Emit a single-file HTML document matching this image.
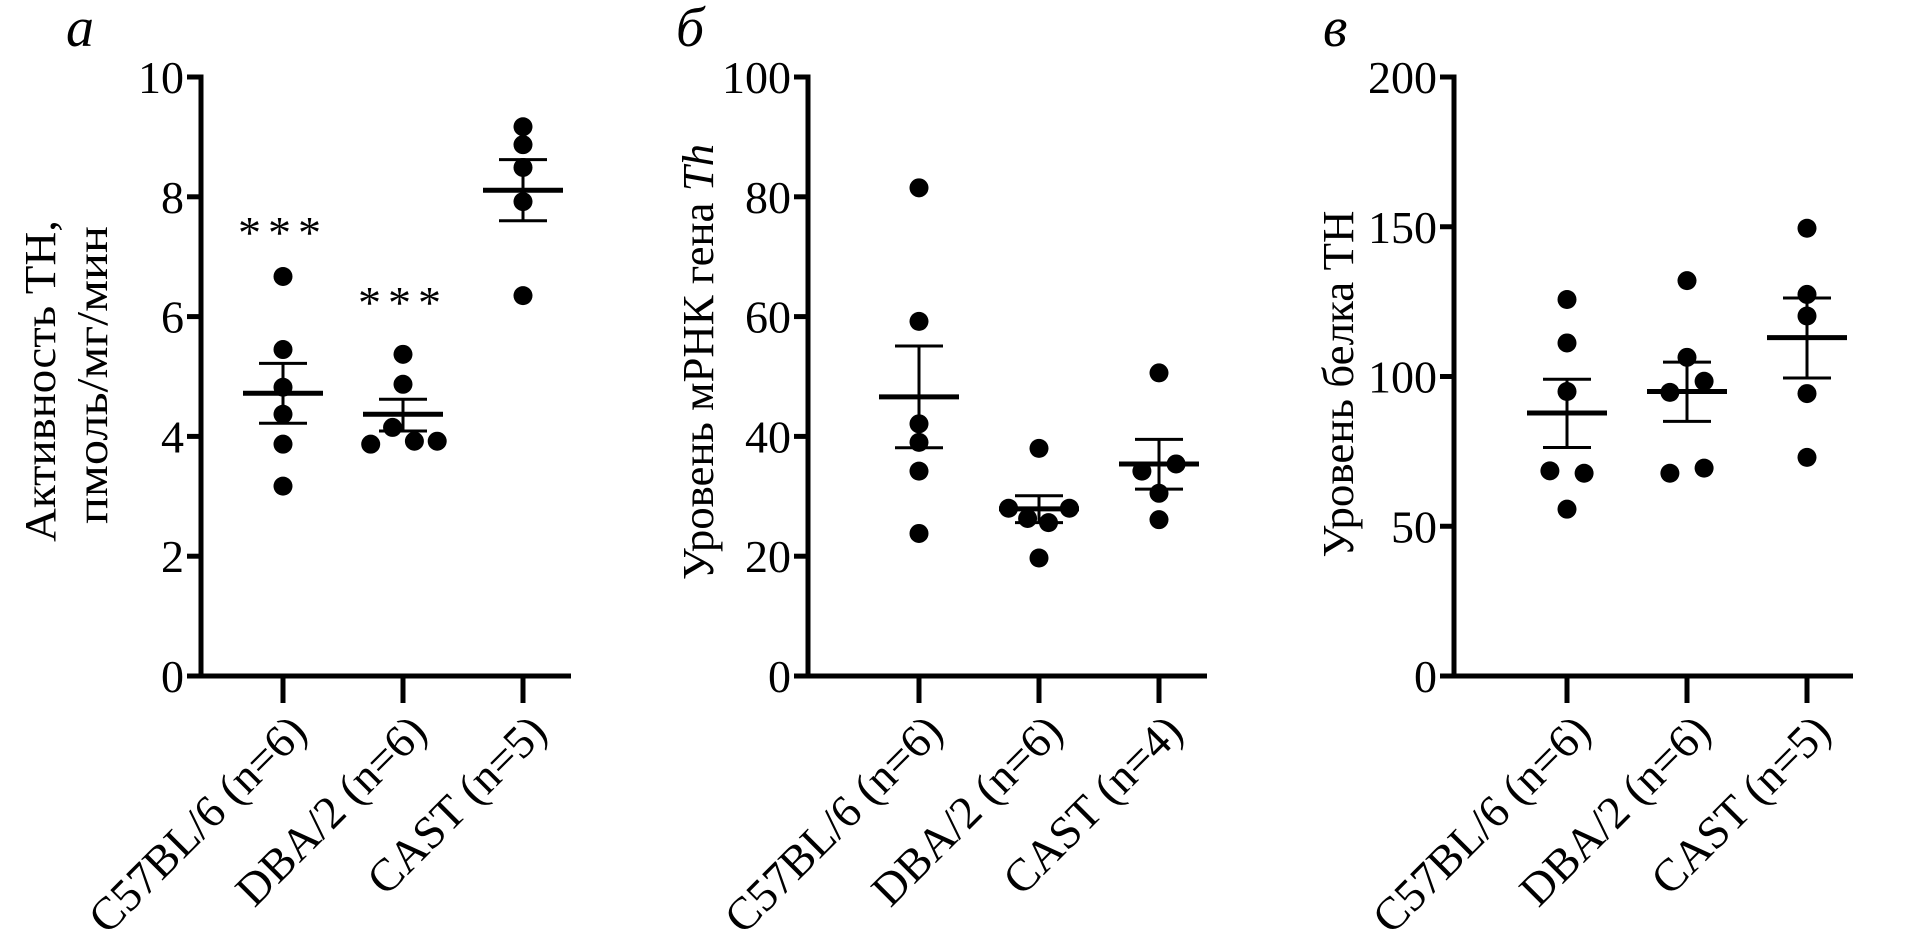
<!DOCTYPE html>
<html><head><meta charset="utf-8"><style>
html,body{margin:0;padding:0;background:#fff;}
svg{display:block;font-family:"Liberation Serif","DejaVu Serif",serif;}
</style></head><body>
<svg id="fig" width="1911" height="941" viewBox="0 0 1911 941" xmlns="http://www.w3.org/2000/svg"></svg>
<script>
const categories = ["C57BL/6 (n=6)", "DBA/2 (n=6)", "CAST (n=5)"];
const categoriesB = ["C57BL/6 (n=6)", "DBA/2 (n=6)", "CAST (n=4)"];
// Panel a: TH activity
const aC57 = [6.67, 5.45, 4.82, 4.37, 3.87, 3.17];
const aDBA = [5.37, 4.87, 4.15, 3.87, 3.92, 3.92];
const aCAST = [9.17, 8.87, 8.49, 7.92, 6.35];
const aMean = [4.72, 4.37, 8.11];
const aSemHi = [5.22, 4.62, 8.62];
const aSemLo = [4.22, 4.09, 7.60];
const aTicks = [0, 2, 4, 6, 8, 10];
// Panel b: mRNA
const bC57 = [81.5, 59.2, 42.1, 39.0, 34.2, 23.8];
const bDBA = [38.0, 28.0, 26.3, 25.6, 28.0, 19.7];
const bCAST = [50.6, 34.2, 35.4, 30.5, 26.1];
const bMean = [46.6, 27.9, 35.4];
const bSemHi = [55.1, 30.1, 39.5];
const bSemLo = [38.1, 25.6, 31.2];
const bTicks = [0, 20, 40, 60, 80, 100];
// Panel c: protein
const cC57 = [125.7, 111.2, 95.0, 68.5, 67.7, 55.7];
const cDBA = [132, 106.4, 94.7, 98.4, 67.7, 69.4];
const cCAST = [149.5, 127.4, 120.2, 94.3, 73.0];
const cMean = [87.8, 95.0, 113.0];
const cSemHi = [99.1, 104.8, 126.2];
const cSemLo = [76.3, 85.0, 99.5];
const cTicks = [0, 50, 100, 150, 200];

const NS = "http://www.w3.org/2000/svg";
const svg = document.getElementById('fig');
function mk(tag, attrs, parent, text){
  const e = document.createElementNS(NS, tag);
  for (const k in attrs) e.setAttribute(k, attrs[k]);
  if (text !== undefined) e.textContent = text;
  (parent||svg).appendChild(e);
  return e;
}
const TOP = 77, BOT = 676;
const jitA = [[0,0,0,0,0,0],[0,0,-0.55,-1.7,0.6,1.8],[0,0,0,0,0]];
const jitB = [[0,0,0,0,0,0],[0,-1.6,-0.6,0.5,1.6,0],[0,-0.9,0.9,0,0]];
const jitC = [[0,0,0,-0.9,0.9,0],[0,0,-0.9,0.9,-0.9,0.9],[0,0,0,0,0]];

function panel(opt){
  const g = mk('g', {});
  
  
  const ax = opt.axisX, max = opt.ticks[opt.ticks.length-1];
  const y = v => BOT - v / max * (BOT - TOP);
  const x = i => opt.cx0 + i * 120;
  const yl = mk('line', {x1:ax, y1:TOP-2.5, x2:ax, y2:BOT+2.5, stroke:'#000','stroke-width':5}, g);
   
  const xl = mk('line', {x1:ax-2.5, y1:BOT, x2:opt.xEnd, y2:BOT, stroke:'#000','stroke-width':5}, g);
   
  opt.ticks.forEach(t => {
    const tl = mk('line', {x1:ax-14, y1:y(t), x2:ax, y2:y(t), stroke:'#000','stroke-width':5}, g);
     
    const tt = mk('text', {x:ax-17, y:y(t)+16, 'text-anchor':'end','font-size':46}, g, String(t));
     
  });
  opt.cats.forEach((c, i) => {
    const tl = mk('line', {x1:x(i), y1:BOT, x2:x(i), y2:BOT+27, stroke:'#000','stroke-width':5}, g);
     
    const px = x(i) + 26, py = 734;
    const tt = mk('text', {x:px, y:py, 'text-anchor':'end','font-size':46, transform:`rotate(-45 ${px} ${py})`}, g, c);
     
  });
  opt.series.forEach((vals, i) => {
    vals.forEach((v, j) => {
      const d = mk('circle', {cx:x(i) + opt.jit[i][j]*19, cy:y(v), r:9.5, fill:'#000'}, g);
       
    });
    const m = mk('line', {x1:x(i)-40, y1:y(opt.mean[i]), x2:x(i)+40, y2:y(opt.mean[i]), stroke:'#000','stroke-width':5}, g);
     
    const e = mk('path', {d:`M${x(i)} ${y(opt.hi[i])} V${y(opt.lo[i])} M${x(i)-24} ${y(opt.hi[i])} H${x(i)+24} M${x(i)-24} ${y(opt.lo[i])} H${x(i)+24}`, stroke:'#000','stroke-width':3, fill:'none'}, g);
     
  });
  const L = mk('text', {x:opt.letterX, y:46, 'font-size':56, 'font-style':'italic'}, g, opt.letter);
   
  return {g, y, x};
}

const pa = panel({name:'panel-a', axisX:201, xEnd:571, cx0:283, ticks:aTicks, cats:categories,
  series:[aC57,aDBA,aCAST], mean:aMean, hi:aSemHi, lo:aSemLo, jit:jitA, letter:'а', letterX:66});
const pb = panel({name:'panel-b', axisX:808, xEnd:1207, cx0:919, ticks:bTicks, cats:categoriesB,
  series:[bC57,bDBA,bCAST], mean:bMean, hi:bSemHi, lo:bSemLo, jit:jitB, letter:'б', letterX:676});
const pc = panel({name:'panel-c', axisX:1454, xEnd:1853, cx0:1567, ticks:cTicks, cats:categories,
  series:[cC57,cDBA,cCAST], mean:cMean, hi:cSemHi, lo:cSemLo, jit:jitC, letter:'в', letterX:1323});

let t = mk('text', {x:0, y:0, 'text-anchor':'middle','font-size':44, textLength:322, lengthAdjust:'spacingAndGlyphs', transform:'translate(55 381) rotate(-90)'}, pa.g, 'Активность ТН,');
 
t = mk('text', {x:0, y:0, 'text-anchor':'middle','font-size':44, textLength:298, lengthAdjust:'spacingAndGlyphs', transform:'translate(107 375) rotate(-90)'}, pa.g, 'пмоль/мг/мин');
 
t = mk('text', {x:0, y:0, 'text-anchor':'middle','font-size':44, textLength:436, lengthAdjust:'spacingAndGlyphs', transform:'translate(713 362) rotate(-90)'}, pb.g, 'Уровень мРНК гена ');
mk('tspan', {'font-style':'italic'}, t, 'Th');
 
t = mk('text', {x:0, y:0, 'text-anchor':'middle','font-size':44, textLength:347, lengthAdjust:'spacingAndGlyphs', transform:'translate(1353 384) rotate(-90)'}, pc.g, 'Уровень белка ТН');
 

t = mk('text', {x:pa.x(0), y:248, 'text-anchor':'middle','font-size':46,'letter-spacing':7}, pa.g, '***');
 
t = mk('text', {x:pa.x(1), y:318, 'text-anchor':'middle','font-size':46,'letter-spacing':7}, pa.g, '***');
 
</script>
</body></html>
